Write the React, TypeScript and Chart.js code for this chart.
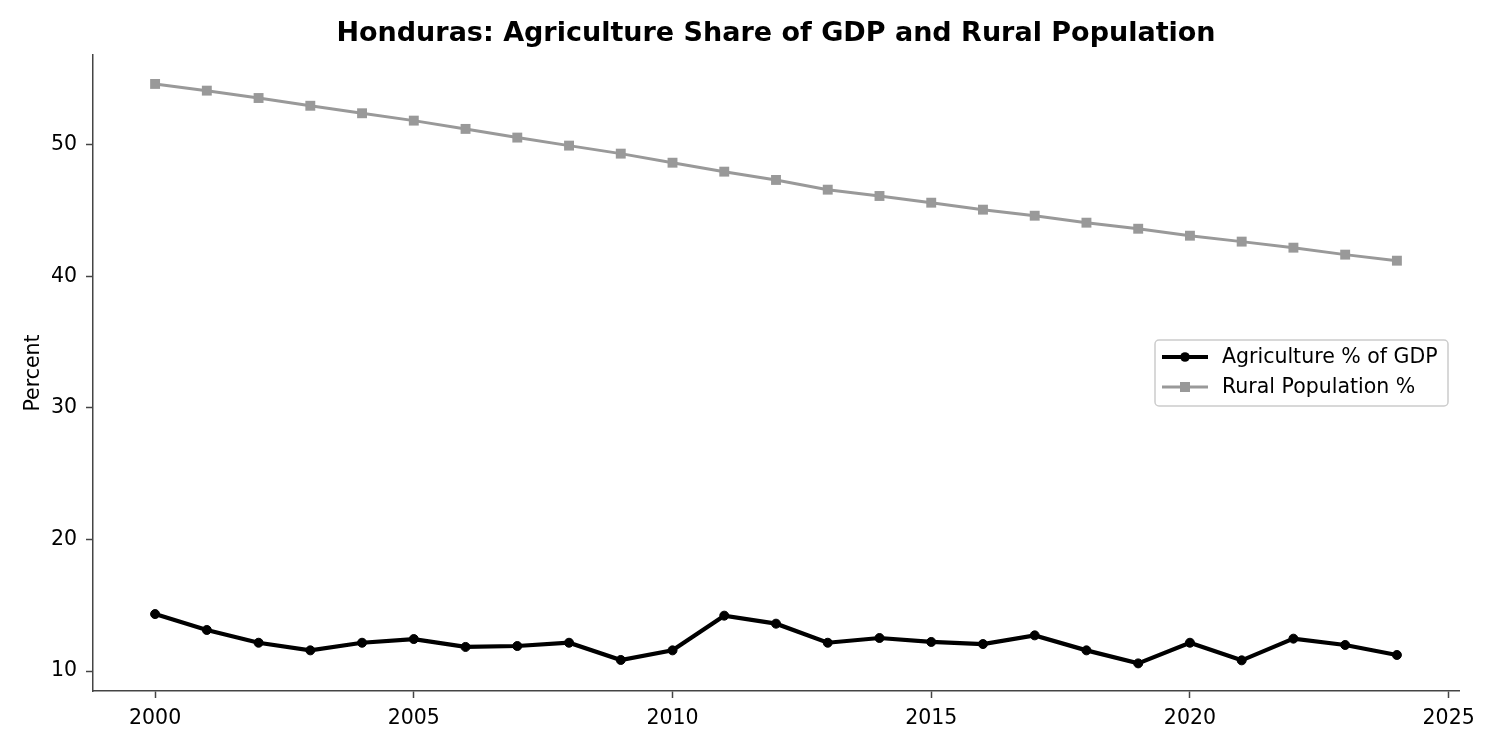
import React, { useEffect, useRef } from "react";
import { Chart, registerables } from "chart.js";

Chart.register(...registerables);

const chartTitle = "Honduras: Agriculture Share of GDP and Rural Population";
const yAxisLabel = "Percent";

const years = [
  2000, 2001, 2002, 2003, 2004, 2005, 2006, 2007, 2008, 2009, 2010, 2011, 2012,
  2013, 2014, 2015, 2016, 2017, 2018, 2019, 2020, 2021, 2022, 2023, 2024,
];

const agricultureGdp = [
  14.33, 13.12, 12.15, 11.57, 12.15, 12.43, 11.83, 11.9, 12.15, 10.84, 11.57,
  14.21, 13.6, 12.15, 12.51, 12.21, 12.05, 12.71, 11.57, 10.58, 12.15, 10.81,
  12.46, 11.98, 11.22,
];

const ruralPopulation = [
  54.64, 54.13, 53.57, 52.98, 52.41, 51.85, 51.22, 50.56, 49.95, 49.34, 48.65,
  47.97, 47.34, 46.6, 46.12, 45.61, 45.08, 44.62, 44.09, 43.63, 43.1, 42.65,
  42.19, 41.66, 41.2,
];

const xTicks = [2000, 2005, 2010, 2015, 2020, 2025];
const yTicks = [10, 20, 30, 40, 50];

const seriesNames = ["Agriculture % of GDP", "Rural Population %"];

const FONT = "'DejaVu Sans', sans-serif";
const AXIS_COLOR = "#444444";
const GRAY = "#999999";
const LABEL_SIZE = 20.5;

// Title, rotated y-axis label and a boxed legend drawn on the canvas.
const decorations = {
  id: "decorations",
  afterDraw(chart: any) {
    const { ctx, chartArea } = chart;
    ctx.save();

    // title
    ctx.fillStyle = "#000";
    ctx.font = `bold 27px ${FONT}`;
    ctx.textAlign = "center";
    ctx.textBaseline = "middle";
    ctx.fillText(chartTitle, (chartArea.left + chartArea.right) / 2, 34);

    // y-axis label
    ctx.font = `${LABEL_SIZE}px ${FONT}`;
    ctx.translate(34, (chartArea.top + chartArea.bottom) / 2);
    ctx.rotate(-Math.PI / 2);
    ctx.fillText(yAxisLabel, 0, 0);
    ctx.setTransform(1, 0, 0, 1, 0, 0);

    // legend box
    const bx = 1155, by = 340, bw = 293, bh = 66, r = 4;
    ctx.beginPath();
    ctx.moveTo(bx + r, by);
    ctx.arcTo(bx + bw, by, bx + bw, by + bh, r);
    ctx.arcTo(bx + bw, by + bh, bx, by + bh, r);
    ctx.arcTo(bx, by + bh, bx, by, r);
    ctx.arcTo(bx, by, bx + bw, by, r);
    ctx.closePath();
    ctx.fillStyle = "rgba(255,255,255,0.8)";
    ctx.fill();
    ctx.strokeStyle = "#cccccc";
    ctx.lineWidth = 1.5;
    ctx.stroke();

    const rows = [
      { y: 357, color: "#000000", width: 4.2, marker: "circle" },
      { y: 387, color: GRAY, width: 3, marker: "square" },
    ];
    rows.forEach((row, i) => {
      ctx.strokeStyle = row.color;
      ctx.lineWidth = row.width;
      ctx.beginPath();
      ctx.moveTo(1162, row.y);
      ctx.lineTo(1208, row.y);
      ctx.stroke();
      ctx.fillStyle = row.color;
      if (row.marker === "circle") {
        ctx.beginPath();
        ctx.arc(1185, row.y, 4.8, 0, Math.PI * 2);
        ctx.fill();
      } else {
        ctx.fillRect(1180, row.y - 5, 10, 10);
      }
      ctx.fillStyle = "#000";
      ctx.font = `${LABEL_SIZE}px ${FONT}`;
      ctx.textAlign = "left";
      ctx.textBaseline = "middle";
      ctx.fillText(seriesNames[i], 1222, row.y + 1);
    });

    ctx.restore();
  },
};

export default function App() {
  const canvasRef = useRef<HTMLCanvasElement | null>(null);

  useEffect(() => {
    document.body.style.margin = "0";
    const canvas = canvasRef.current;
    if (!canvas) return;

    const chart = new Chart(canvas, {
      type: "line",
      data: {
        datasets: [
          {
            label: seriesNames[0],
            data: years.map((yr, i) => ({ x: yr, y: agricultureGdp[i] })),
            borderColor: "#000000",
            backgroundColor: "#000000",
            borderWidth: 4.2,
            pointStyle: "circle",
            pointRadius: 4.5,
            pointBorderWidth: 1,
            pointBackgroundColor: "#000000",
            pointBorderColor: "#000000",
            tension: 0,
          },
          {
            label: seriesNames[1],
            data: years.map((yr, i) => ({ x: yr, y: ruralPopulation[i] })),
            borderColor: GRAY,
            backgroundColor: GRAY,
            borderWidth: 3,
            pointStyle: "rect",
            pointRadius: 7,
            pointBorderWidth: 0,
            pointBackgroundColor: GRAY,
            pointBorderColor: GRAY,
            tension: 0,
          },
        ],
      },
      options: {
        animation: false,
        responsive: false,
        maintainAspectRatio: false,
        layout: { padding: { top: 55, right: 41, bottom: 0, left: 0 } },
        plugins: {
          legend: { display: false },
          title: { display: false },
          tooltip: { enabled: false },
        },
        scales: {
          x: {
            type: "linear",
            min: 1998.8,
            max: 2025.2,
            afterFit(scale: any) {
              scale.height = 59;
            },
            afterBuildTicks(scale: any) {
              scale.ticks = xTicks.map((v) => ({ value: v }));
            },
            grid: {
              drawOnChartArea: false,
              drawTicks: true,
              tickLength: 7,
              tickWidth: 1.5,
              tickColor: AXIS_COLOR,
            },
            border: { display: true, color: AXIS_COLOR, width: 1.5 },
            ticks: {
              color: "#000",
              font: { family: FONT, size: LABEL_SIZE },
              padding: 8,
              maxRotation: 0,
              callback: (v: any) => String(v),
            },
          },
          y: {
            type: "linear",
            min: 8.48,
            max: 56.84,
            afterFit(scale: any) {
              scale.width = 93;
            },
            afterBuildTicks(scale: any) {
              scale.ticks = yTicks.map((v) => ({ value: v }));
            },
            grid: {
              drawOnChartArea: false,
              drawTicks: true,
              tickLength: 7,
              tickWidth: 1.5,
              tickColor: AXIS_COLOR,
            },
            border: { display: true, color: AXIS_COLOR, width: 1.5 },
            ticks: {
              color: "#000",
              font: { family: FONT, size: LABEL_SIZE },
              padding: 9,
              callback: (v: any) => String(v),
            },
          },
        },
      },
      plugins: [decorations],
    });

    return () => chart.destroy();
  }, []);

  return (
    <div style={{ width: 1500, height: 750 }}>
      <canvas ref={canvasRef} width={1500} height={750} />
    </div>
  );
}
